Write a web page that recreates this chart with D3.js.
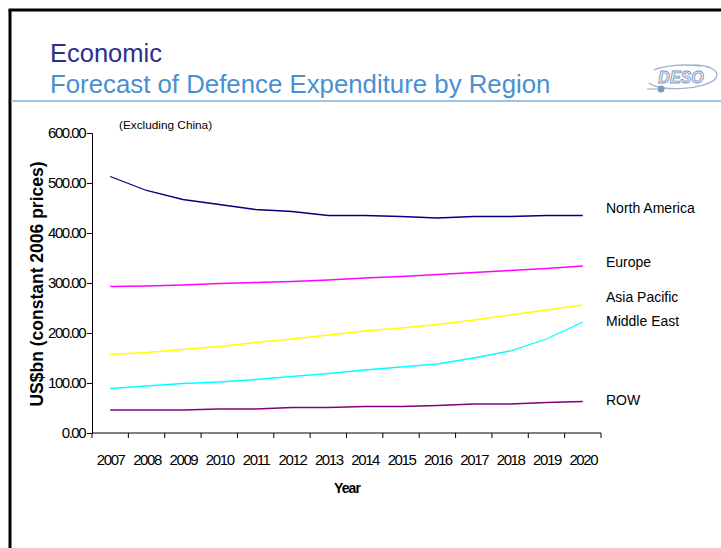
<!DOCTYPE html>
<html>
<head>
<meta charset="utf-8">
<script src="https://cdn.jsdelivr.net/npm/d3@7"></script>
<style>
  html, body { margin: 0; padding: 0; background: #fff; }
  svg { display: block; font-family: "Liberation Sans", Arial, sans-serif; }
</style>
</head>
<body>
<svg id="chart" width="721" height="548"></svg>
<script>
// Forecast defence expenditure by region, US$bn at constant 2006 prices
const years = ["2007","2008","2009","2010","2011","2012","2013","2014","2015","2016","2017","2018","2019","2020"];
const northAmerica = [513, 485, 467, 457, 447, 443, 435, 435, 433, 430, 433, 433, 435, 435];
const europe       = [293, 294, 296, 299, 301, 303, 306, 310, 313, 317, 321, 325, 329, 334];
const asiaPacific  = [157, 161, 167, 173, 181, 188, 196, 204, 210, 217, 226, 236, 246, 256];
const middleEast   = [89, 94, 99, 102, 107, 113, 119, 126, 132, 138, 150, 164, 188, 222];
const row          = [46, 46, 46, 48, 48, 51, 51, 53, 53, 55, 58, 58, 61, 63];
const yTicks = [0, 100, 200, 300, 400, 500, 600];

const seriesNames  = ["North America", "Europe", "Asia Pacific", "Middle East", "ROW"];
const seriesValues = [northAmerica, europe, asiaPacific, middleEast, row];
const seriesColors = ["#000080", "#ff00ff", "#ffff00", "#00ffff", "#800080"];
// label vertical positions are given in data units so they sit beside their lines
const labelValues  = [448, 339, 269, 221, 63];

const svg = d3.select("#chart");

// slide frame
svg.append("line").attr("x1", 10).attr("y1", 10).attr("x2", 10).attr("y2", 548)
  .attr("stroke", "#000").attr("stroke-width", 3);
svg.append("line").attr("x1", 8.5).attr("y1", 10).attr("x2", 721).attr("y2", 10)
  .attr("stroke", "#000").attr("stroke-width", 3);

// header
svg.append("text").attr("x", 50).attr("y", 62)
  .attr("font-size", 25.5).attr("fill", "#2e2e8f").text("Economic");
svg.append("text").attr("x", 50).attr("y", 93)
  .attr("font-size", 25.8).attr("fill", "#4a8fd3").text("Forecast of Defence Expenditure by Region");
svg.append("line").attr("x1", 11).attr("y1", 101).attr("x2", 721).attr("y2", 101)
  .attr("stroke", "#9dc3e6").attr("stroke-width", 2);

// DESO logo
const logo = svg.append("g").attr("transform", "translate(681,78)");
logo.append("path")
  .attr("d", "M-32,5 C-22,14 26,12 35,0 C39,-8 28,-13 12,-13 M-27,-8 C-16,-13 4,-14 20,-12")
  .attr("fill", "none").attr("stroke", "#9fb2cf").attr("stroke-width", 1.4);
logo.append("text").attr("x", 0).attr("y", 5).attr("text-anchor", "middle")
  .attr("font-size", 16).attr("font-style", "italic").attr("font-weight", "bold")
  .attr("fill", "#eef2f8").attr("stroke", "#7d97bd").attr("stroke-width", 0.9)
  .text("DESO");
logo.append("path").attr("d", "M-34,11 L-24,11").attr("stroke", "#9fb2cf").attr("stroke-width", 1.2);
logo.append("circle").attr("cx", -20).attr("cy", 11).attr("r", 3.5).attr("fill", "#7d97bd");

// plot area
const x0 = 92, x1 = 601, yTop = 133, yBot = 433;
const xBand = d3.scaleBand().domain(years).range([x0, x1]).padding(0);
const y = d3.scaleLinear().domain([0, 600]).range([yBot, yTop]);
const xc = d => xBand(d) + xBand.bandwidth() / 2;

// y axis
const yAxis = d3.axisLeft(y).tickValues(yTicks).tickSize(5).tickFormat(d3.format(".2f"));
const gy = svg.append("g").attr("transform", `translate(${x0},0)`).call(yAxis);
gy.select(".domain").attr("stroke", "#000");
gy.selectAll(".tick line").attr("stroke", "#000");
gy.selectAll(".tick text").attr("font-size", 15).attr("letter-spacing", -1.5)
  .attr("fill", "#000").attr("x", -7).attr("font-family", "Liberation Sans, Arial, sans-serif");

// x axis: ticks sit on category boundaries, labels centred in each category
const bounds = years.map(d => xBand(d)).concat([x1]);
const gx = svg.append("g").attr("transform", `translate(0,${yBot})`);
gx.append("line").attr("x1", x0).attr("x2", x1).attr("y1", 0).attr("y2", 0).attr("stroke", "#000");
gx.selectAll("line.tk").data(bounds).join("line").attr("class", "tk")
  .attr("x1", d => d).attr("x2", d => d).attr("y1", 0).attr("y2", 5).attr("stroke", "#000");
gx.selectAll("text").data(years).join("text")
  .attr("x", d => xc(d) + 0.5).attr("y", 32).attr("text-anchor", "middle")
  .attr("font-size", 15).attr("letter-spacing", -1.4).attr("fill", "#000").text(d => d);

// series lines
const line = d3.line().x((d, i) => xc(years[i])).y(d => y(d));
seriesValues.forEach((vals, k) => {
  svg.append("path").datum(vals).attr("d", line)
    .attr("fill", "none").attr("stroke", seriesColors[k]).attr("stroke-width", 1.3);
});

// series labels
seriesNames.forEach((name, k) => {
  svg.append("text").attr("x", 606).attr("y", y(labelValues[k]))
    .attr("font-size", 14).attr("fill", "#000").attr("dominant-baseline", "middle").text(name);
});

// annotations and axis titles
svg.append("text").attr("x", 119).attr("y", 129).attr("font-size", 11.8).attr("fill", "#000")
  .text("(Excluding China)");
svg.append("text").attr("x", 347).attr("y", 493).attr("text-anchor", "middle")
  .attr("font-size", 14).attr("font-weight", "bold").attr("letter-spacing", -0.9).attr("fill", "#000").text("Year");
svg.append("text").attr("transform", "translate(43,284) rotate(-90)")
  .attr("text-anchor", "middle").attr("font-size", 17.5).attr("font-weight", "bold").attr("fill", "#000")
  .text("US$bn (constant 2006 prices)");
</script>
</body>
</html>
